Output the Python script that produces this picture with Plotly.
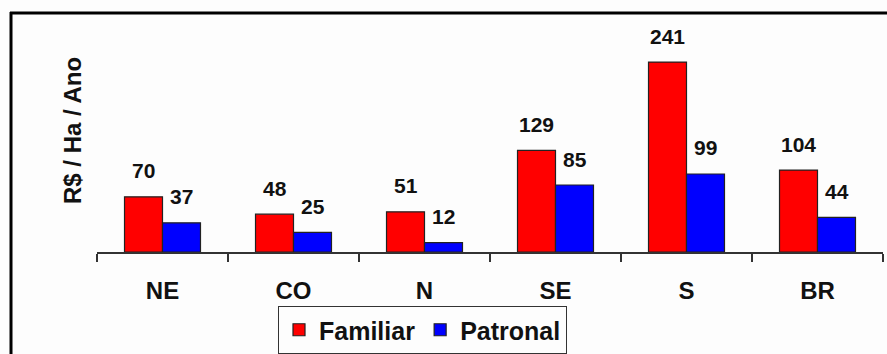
import plotly.graph_objects as go

# Renda por hectare e por ano, por região
regioes = ["NE", "CO", "N", "SE", "S", "BR"]
familiar = [70, 48, 51, 129, 241, 104]
patronal = [37, 25, 12, 85, 99, 44]

W, H = 887, 354
ML, MR, MT, MB = 97, 4, 55, 102
Y_MAX = 250
FONT = "Liberation Sans, Arial, sans-serif"

plot_w = W - ML - MR
plot_h = H - MT - MB


def px_x(px):
    return (px - ML) / plot_w


def px_y(py):
    return (H - MB - py) / plot_h


fig = go.Figure()
fig.add_trace(go.Bar(name="Familiar", x=regioes, y=familiar,
                     marker=dict(color="#ff0000", line=dict(color="#222222", width=1.2))))
fig.add_trace(go.Bar(name="Patronal", x=regioes, y=patronal,
                     marker=dict(color="#0000ff", line=dict(color="#222222", width=1.2))))

# Rótulos de valor acima de cada barra
for serie, shift in ((familiar, -19), (patronal, 19)):
    for reg, val in zip(regioes, serie):
        fig.add_annotation(x=reg, y=val, xref="x", yref="y", text=str(val),
                           showarrow=False, xshift=shift, yshift=26,
                           yanchor="middle", xanchor="center",
                           font=dict(family=FONT, size=21, color="#111111", weight="bold"))

# Título do eixo vertical
fig.add_annotation(x=px_x(72), y=px_y(131), xref="paper", yref="paper",
                   text="R$ / Ha / Ano", textangle=-90, showarrow=False,
                   xanchor="center", yanchor="middle",
                   font=dict(family=FONT, size=24, color="#111111", weight="bold"))

# Moldura (bordas superior e esquerda)
fig.add_shape(type="line", xref="paper", yref="paper",
              x0=px_x(11), x1=px_x(11), y0=px_y(H + 5), y1=px_y(12),
              line=dict(color="black", width=3))
fig.add_shape(type="line", xref="paper", yref="paper",
              x0=px_x(10), x1=px_x(W + 5), y0=px_y(13), y1=px_y(13),
              line=dict(color="black", width=3))

fig.update_layout(
    width=W, height=H,
    margin=dict(l=ML, r=MR, t=MT, b=MB, pad=0, autoexpand=False),
    paper_bgcolor="#fdfdfd", plot_bgcolor="#fdfdfd",
    barmode="group", bargap=0.42, bargroupgap=0,
    showlegend=True,
    legend=dict(orientation="h", x=px_x(278), y=px_y(306),
                xanchor="left", yanchor="top",
                bordercolor="#333333", borderwidth=1, bgcolor="#fdfdfd",
                font=dict(family=FONT, size=25, color="#111111", weight="bold"),
                itemwidth=30, tracegroupgap=0),
    xaxis=dict(showline=True, linecolor="#333333", linewidth=1.5,
               ticks="outside", ticklen=8, tickcolor="#333333", tickwidth=1.5,
               tickson="boundaries", ticklabelstandoff=16,
               tickfont=dict(family=FONT, size=24, color="#111111", weight="bold"),
               showgrid=False, zeroline=False),
    yaxis=dict(range=[0, Y_MAX], visible=False, showgrid=False, zeroline=False),
)

fig.write_html("out.html")
